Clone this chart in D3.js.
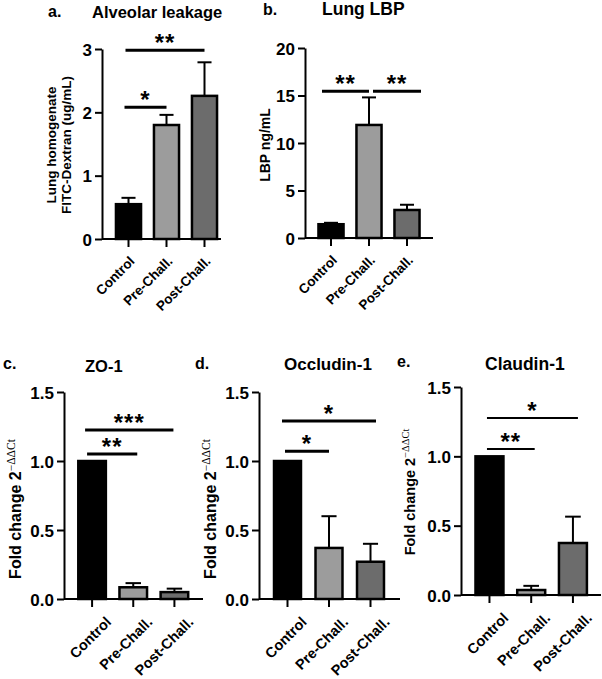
<!DOCTYPE html>
<html>
<head>
<meta charset="utf-8">
<script src="https://cdn.jsdelivr.net/npm/d3@7"></script>
<style>
body { margin: 0; background: #fff; }
svg text { font-family: "Liberation Sans", Arial, sans-serif; font-weight: bold; fill: #000; }
</style>
</head>
<body>
<div id="chart"></div>
<script>
//page size
var w = 602;
var h = 679;

//groups shared by every panel
var groups = ["Control", "Pre-Chall.", "Post-Chall."];
var barColours = ["#000000", "#9c9c9c", "#6c6c6c"];

//a. Alveolar leakage (mean and SEM)
var leakMean = [0.55, 1.80, 2.26];
var leakSem = [0.10, 0.16, 0.53];
var leakTicks = [0, 1, 2, 3];
var leakSig = [["Control", "Pre-Chall.", 2.08, "*"], ["Control", "Post-Chall.", 2.98, "**"]];

//b. Lung LBP
var lbpMean = [1.45, 11.9, 2.95];
var lbpSem = [0.15, 2.9, 0.55];
var lbpTicks = [0, 5, 10, 15, 20];
var lbpSig = [["Control", "Pre-Chall.", 15.45, "**"], ["Pre-Chall.", "Post-Chall.", 15.45, "**"]];

//c. ZO-1
var zoMean = [1.0, 0.085, 0.05];
var zoSem = [0, 0.03, 0.025];
var zoSig = [["Control", "Pre-Chall.", 1.05, "**"], ["Control", "Post-Chall.", 1.225, "***"]];

//d. Occludin-1
var occMean = [1.0, 0.37, 0.27];
var occSem = [0, 0.23, 0.13];
var occSig = [["Control", "Pre-Chall.", 1.07, "*"], ["Control", "Post-Chall.", 1.29, "*"]];

//e. Claudin-1
var clMean = [1.0, 0.036, 0.375];
var clSem = [0, 0.03, 0.19];
var clSig = [["Control", "Pre-Chall.", 1.053, "**"], ["Control", "Post-Chall.", 1.277, "*"]];

var foldTicks = [0, 0.5, 1.0, 1.5];
var foldLabel = ["Fold change 2", "\u2212\u0394\u0394Ct"];

//layout of each panel (pixels only, no data)
var panels = [
    {letter: "a.", title: "Alveolar leakage", mean: leakMean, sem: leakSem, ticks: leakTicks, sig: leakSig,
     fmt: d3.format("d"), yMax: 3, y0: 239, yTop: 49, axisX: 102, axisEnd: 221, band: [109.5, 223.5], pad: 0.34,
     letterXY: [48, 17], titleXY: [92, 18], titleSize: 16.5, lblSize: 13.5, lblDx: 7, lblDy: 23,
     sigPad: [[-4, 0], [-3, 0]], sigW: 3, yLab: ["Lung homogenate", "FITC-Dextran (ug/mL)"], yLabX: [55.5, 71], yLabY: 145, yLabSize: 13.5},
    {letter: "b.", title: "Lung LBP", mean: lbpMean, sem: lbpSem, ticks: lbpTicks, sig: lbpSig,
     fmt: d3.format("d"), yMax: 20, y0: 238, yTop: 48, axisX: 305, axisEnd: 433, band: [312, 426], pad: 0.34,
     letterXY: [263, 15], titleXY: [322, 15], titleSize: 17.5, lblSize: 13.5, lblDx: 7, lblDy: 23,
     sigPad: [[-9, 0], [4, 14]], sigW: 3, yLab: ["LBP ng/mL"], yLabX: [270], yLabY: 145, yLabSize: 14},
    {letter: "c.", title: "ZO-1", mean: zoMean, sem: zoSem, ticks: foldTicks, sig: zoSig,
     fmt: d3.format(".1f"), yMax: 1.5, y0: 599, yTop: 392, axisX: 64, axisEnd: 203, band: [71.5, 195], pad: 0.33,
     letterXY: [3, 369], titleXY: [85, 372], titleSize: 16.5, lblSize: 14.5, lblDx: 20, lblDy: 24,
     sigPad: [[-5, 4], [-7, -1]], sigW: 3, fold: true, yLabX: [21], yLabY: 509, yLabSize: 16},
    {letter: "d.", title: "Occludin-1", mean: occMean, sem: occSem, ticks: foldTicks, sig: occSig,
     fmt: d3.format(".1f"), yMax: 1.5, y0: 599, yTop: 392, axisX: 259, axisEnd: 400, band: [266.75, 391.25], pad: 0.35,
     letterXY: [195, 369], titleXY: [284, 370], titleSize: 17, lblSize: 14.5, lblDx: 20, lblDy: 24,
     sigPad: [[-2.5, 0], [-5.5, 5.5]], sigW: 3, fold: true, yLabX: [216], yLabY: 509, yLabSize: 16},
    {letter: "e.", title: "Claudin-1", mean: clMean, sem: clSem, ticks: foldTicks, sig: clSig,
     fmt: d3.format(".1f"), yMax: 1.5, y0: 595, yTop: 387, axisX: 461, axisEnd: 601, band: [468.6, 593.8], pad: 0.33,
     letterXY: [397, 367], titleXY: [485, 370], titleSize: 17.5, lblSize: 14.5, lblDx: 20, lblDy: 24,
     sigPad: [[-2.5, 3.5], [-2.5, 5]], sigW: 2, fold: true, yLabX: [415], yLabY: 492, yLabSize: 14.5}
];

var svg = d3.select("#chart")
    .append("svg")
    .attr("width", w)
    .attr("height", h);

panels.forEach(drawPanel);

function drawPanel(p)
{
    var xscale = d3.scaleBand()
        .domain(groups)
        .range(p.band)
        .paddingInner(p.pad)
        .paddingOuter(p.pad / 2);
    var bw = xscale.bandwidth();
    var mid = d => xscale(d) + bw / 2;

    var yscale = d3.scaleLinear()
        .domain([0, p.yMax])
        .range([p.y0, p.yTop]);

    var g = svg.append("g");

    //panel letter and title
    g.append("text").attr("x", p.letterXY[0]).attr("y", p.letterXY[1])
        .style("font-size", "16px").text(p.letter);
    g.append("text").attr("x", p.titleXY[0]).attr("y", p.titleXY[1])
        .style("font-size", p.titleSize + "px").text(p.title);

    //y axis
    var yaxis = d3.axisLeft(yscale)
        .tickValues(p.ticks)
        .tickFormat(p.fmt)
        .tickSize(7)
        .tickSizeOuter(0)
        .tickPadding(3);
    var ya = g.append("g")
        .attr("transform", "translate(" + p.axisX + ",0)")
        .call(yaxis);
    ya.select(".domain").attr("stroke-width", 2);
    ya.selectAll(".tick line").attr("stroke-width", 2);
    ya.selectAll("text").style("font-size", "17px").attr("dy", "0.36em");

    //x axis: line plus tick marks under each bar
    g.append("line")
        .attr("x1", p.axisX).attr("x2", p.axisEnd)
        .attr("y1", p.y0).attr("y2", p.y0)
        .attr("stroke", "#000").attr("stroke-width", 2);
    var xaxis = d3.axisBottom(xscale).tickSize(8).tickSizeOuter(0).tickFormat("");
    var xa = g.append("g")
        .attr("transform", "translate(0," + p.y0 + ")")
        .call(xaxis);
    xa.select(".domain").remove();
    xa.selectAll(".tick line").attr("stroke-width", 2);

    //rotated group labels
    g.selectAll(".xlab")
        .data(groups)
        .enter()
        .append("text")
        .attr("class", "xlab")
        .attr("text-anchor", "end")
        .attr("transform", d => "translate(" + (mid(d) + p.lblDx) + "," + (p.y0 + p.lblDy) + ") rotate(-45)")
        .style("font-size", p.lblSize + "px")
        .text(d => d);

    //bars
    g.selectAll(".bar")
        .data(groups)
        .enter()
        .append("rect")
        .attr("class", "bar")
        .attr("x", d => xscale(d))
        .attr("y", (d, i) => yscale(p.mean[i]))
        .attr("width", bw)
        .attr("height", (d, i) => p.y0 - yscale(p.mean[i]))
        .attr("fill", (d, i) => barColours[i])
        .attr("stroke", "#000")
        .attr("stroke-width", 2.5);

    //upper error bars (SEM)
    groups.forEach(function(d, i)
    {
        if (p.sem[i] <= 0) return;
        var top = yscale(p.mean[i] + p.sem[i]);
        g.append("line")
            .attr("x1", mid(d)).attr("x2", mid(d))
            .attr("y1", yscale(p.mean[i])).attr("y2", top)
            .attr("stroke", "#000").attr("stroke-width", 2);
        g.append("line")
            .attr("x1", mid(d) - bw * 0.28).attr("x2", mid(d) + bw * 0.28)
            .attr("y1", top).attr("y2", top)
            .attr("stroke", "#000").attr("stroke-width", 2);
    });

    //significance brackets
    p.sig.forEach(function(s, k)
    {
        var x1 = mid(s[0]) + p.sigPad[k][0];
        var x2 = mid(s[1]) + p.sigPad[k][1];
        var yy = yscale(s[2]);
        g.append("line")
            .attr("x1", x1).attr("x2", x2)
            .attr("y1", yy).attr("y2", yy)
            .attr("stroke", "#000").attr("stroke-width", p.sigW);
        g.append("text")
            .attr("x", (x1 + x2) / 2)
            .attr("y", yy + 1)
            .attr("text-anchor", "middle")
            .style("font-size", "24px")
            .style("letter-spacing", "1px")
            .text(s[3]);
    });

    //y axis title
    if (p.fold)
    {
        var t = g.append("text")
            .attr("text-anchor", "middle")
            .attr("transform", "translate(" + p.yLabX[0] + "," + p.yLabY + ") rotate(-90)")
            .style("font-size", p.yLabSize + "px");
        t.append("tspan").text(foldLabel[0]);
        t.append("tspan")
            .attr("dy", "-0.55em")
            .style("font-size", (p.yLabSize * 0.72) + "px")
            .style("font-weight", "normal")
            .style("font-family", "'Liberation Serif', serif")
            .text(foldLabel[1]);
    }
    else
    {
        p.yLab.forEach(function(line, k)
        {
            g.append("text")
                .attr("text-anchor", "middle")
                .attr("transform", "translate(" + p.yLabX[k] + "," + p.yLabY + ") rotate(-90)")
                .style("font-size", p.yLabSize + "px")
                .text(line);
        });
    }
}
</script>
</body>
</html>
